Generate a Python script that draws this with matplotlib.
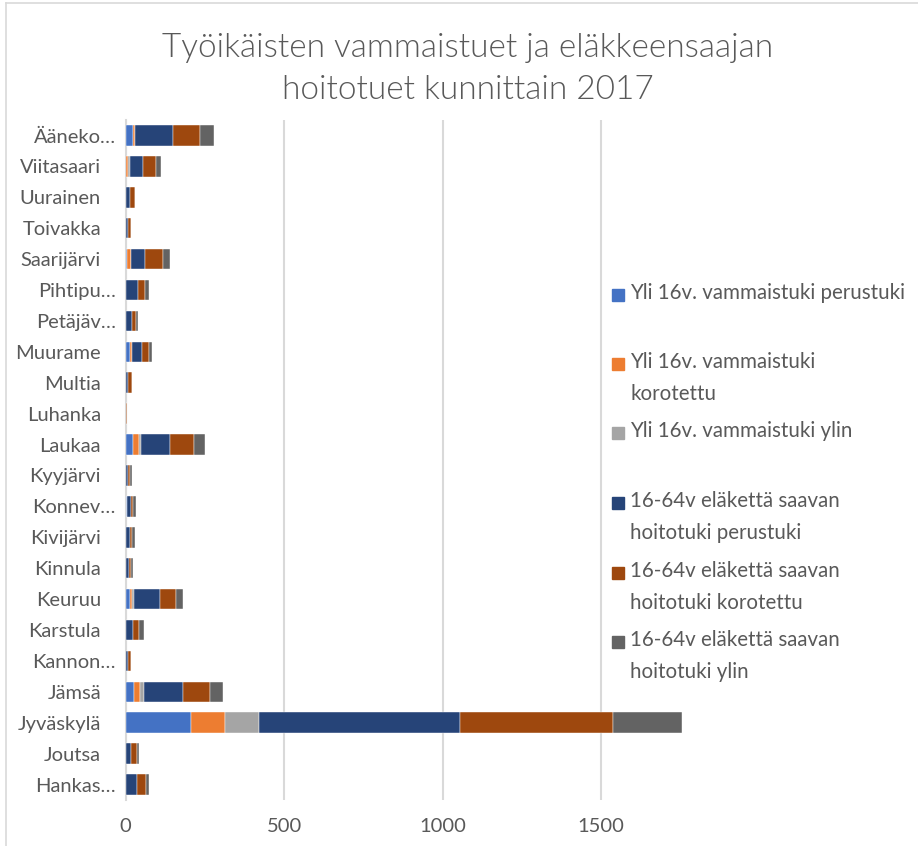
import numpy as np
import matplotlib
matplotlib.use('Agg')
import matplotlib.pyplot as plt
from matplotlib.lines import Line2D
from matplotlib.patches import Rectangle
from matplotlib.transforms import ScaledTranslation

plt.rcParams['font.family'] = ['Lato', 'DejaVu Sans']

# municipalities, bottom to top (as Excel draws them)
kunnat = ['Hankas…', 'Joutsa', 'Jyväskylä', 'Jämsä', 'Kannon…', 'Karstula',
          'Keuruu', 'Kinnula', 'Kivijärvi', 'Konnev…', 'Kyyjärvi', 'Laukaa',
          'Luhanka', 'Multia', 'Muurame', 'Petäjäv…', 'Pihtipu…', 'Saarijärvi',
          'Toivakka', 'Uurainen', 'Viitasaari', 'Ääneko…']

sarjat = ['Yli 16v. vammaistuki perustuki',
          'Yli 16v. vammaistuki\nkorotettu',
          'Yli 16v. vammaistuki ylin',
          '16-64v eläkettä saavan\nhoitotuki perustuki',
          '16-64v eläkettä saavan\nhoitotuki korotettu',
          '16-64v eläkettä saavan\nhoitotuki ylin']

vamm_perus = [2, 1, 206, 27, 0, 2, 12, 0, 0, 3, 0, 24, 0, 0, 14, 0, 2, 4, 0, 0, 0, 23]
vamm_korot = [0, 1, 108, 18, 0, 0, 8, 0, 0, 0, 0, 19, 2, 0, 6, 0, 0, 12, 0, 0, 6, 6]
vamm_ylin = [0, 0, 106, 14, 0, 0, 7, 0, 0, 0, 0, 4, 0, 0, 0, 0, 0, 0, 0, 0, 7, 0]
hoito_perus = [35, 15, 635, 122, 6, 22, 82, 10, 12, 15, 8, 94, 0, 8, 33, 20, 38, 46, 7, 14, 42, 121]
hoito_korot = [26, 18, 482, 85, 11, 19, 49, 7, 9, 6, 5, 76, 3, 12, 22, 13, 22, 57, 10, 14, 41, 85]
hoito_ylin = [12, 7, 220, 41, 1, 14, 22, 7, 7, 7, 6, 33, 0, 1, 8, 5, 13, 22, 0, 1, 15, 44]

varit = ['#4472C4', '#ED7D31', '#A5A5A5', '#264478', '#9E480E', '#636363']
tekstivari = '#595959'
fs = 14.5

fig = plt.figure(figsize=(9.18, 8.46), dpi=100)
ax = fig.add_axes([125.7 / 918, 1 - 800 / 846, (696 - 125.7) / 918, 680 / 846])

data = [vamm_perus, vamm_korot, vamm_ylin, hoito_perus, hoito_korot, hoito_ylin]
y = np.arange(len(kunnat))
left = np.zeros(len(kunnat))
for vals, col, lab in zip(data, varit, sarjat):
    ax.barh(y, vals, left=left, height=0.667, color=col, edgecolor='white',
            linewidth=0.3, label=lab, zorder=3)
    left = left + np.array(vals)

ax.set_xlim(0, 1800)
ax.set_ylim(-0.5, len(kunnat) - 0.5)
ax.set_xticks([0, 500, 1000, 1500])
ax.set_yticks(y)
ax.set_yticklabels(kunnat)
ax.tick_params(axis='both', length=0, labelsize=fs, colors=tekstivari)
ax.tick_params(axis='y', pad=7)
ax.tick_params(axis='x', pad=13)
# full names sit further left than the truncated ones in the original
for t in ax.get_yticklabels():
    if not t.get_text().endswith('…'):
        t.set_transform(t.get_transform() + ScaledTranslation(-15 / 100, 0, fig.dpi_scale_trans))
ax.grid(axis='x', color='#D9D9D9', linewidth=1.5, zorder=0)
for s in ['top', 'right', 'bottom']:
    ax.spines[s].set_visible(False)
ax.spines['left'].set_color('#D9D9D9')
ax.spines['left'].set_linewidth(1.5)
ax.spines['left'].set_zorder(2)

# title
fig.text(468 / 918, 1 - 69 / 846,
         'Työikäisten vammaistuet ja eläkkeensaajan\nhoitotuet kunnittain 2017',
         ha='center', va='center', fontsize=24, color=tekstivari,
         fontweight=300, linespacing=1.52)

# legend drawn by hand to follow Excel's spacing
leg_y = [295, 364, 433, 503, 573, 642]
for lab, col, yy in zip(sarjat, varit, leg_y):
    fig.patches.append(Rectangle((612 / 918, 1 - (yy + 6) / 846), 12 / 918, 12 / 846,
                                 transform=fig.transFigure, color=col))
    fig.text(630 / 918, 1 - (yy - 12) / 846, lab, ha='left', va='top',
             fontsize=14.8, color=tekstivari, linespacing=1.72)

# chart border
fig.add_artist(Line2D([6 / 918, 6 / 918], [0, 1 - 3 / 846], color='#D9D9D9',
                      linewidth=1.2, transform=fig.transFigure))
fig.add_artist(Line2D([6 / 918, 1], [1 - 3 / 846, 1 - 3 / 846], color='#D9D9D9',
                      linewidth=1.2, transform=fig.transFigure))

fig.savefig('out.png', dpi=100)
